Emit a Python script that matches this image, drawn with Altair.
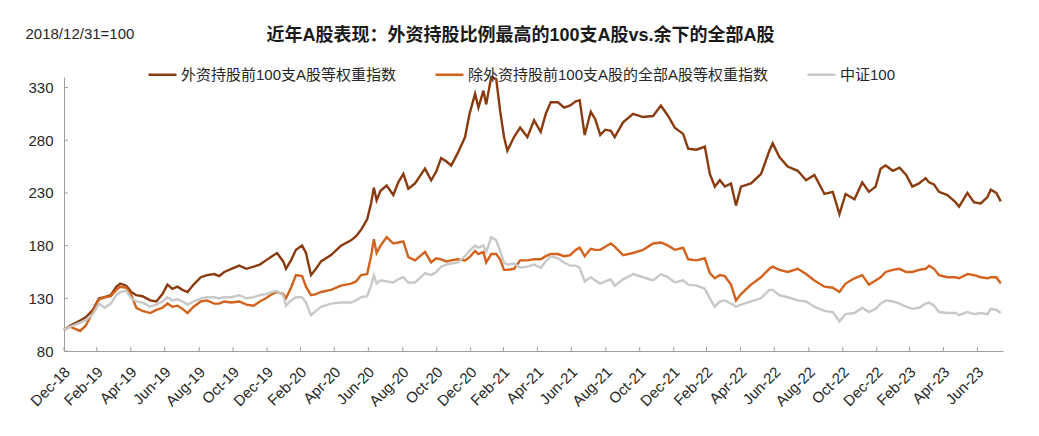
import altair as alt
import pandas as pd

# ---------------- data ----------------
dates = [
    "2018-12-31", "2019-01-11", "2019-01-29", "2019-02-08", "2019-02-21", "2019-03-04", "2019-03-14",
    "2019-03-25", "2019-04-04", "2019-04-11", "2019-04-22", "2019-05-01", "2019-05-10", "2019-05-21",
    "2019-06-04", "2019-06-15", "2019-06-26", "2019-07-05", "2019-07-14", "2019-07-23", "2019-08-01",
    "2019-08-10", "2019-08-21", "2019-09-03", "2019-09-14", "2019-09-27", "2019-10-06", "2019-10-15",
    "2019-10-28", "2019-11-11", "2019-11-24", "2019-12-07", "2019-12-18", "2019-12-29", "2020-01-09",
    "2020-01-18", "2020-01-29", "2020-02-03", "2020-02-12", "2020-02-21", "2020-03-03", "2020-03-10",
    "2020-03-19", "2020-03-28", "2020-04-06", "2020-04-24", "2020-05-12", "2020-05-30", "2020-06-08",
    "2020-06-17", "2020-06-28", "2020-07-05", "2020-07-10", "2020-07-15", "2020-07-22", "2020-08-02",
    "2020-08-14", "2020-08-23", "2020-09-01", "2020-09-10", "2020-09-22", "2020-10-10", "2020-10-21",
    "2020-10-30", "2020-11-08", "2020-11-17", "2020-11-26", "2020-12-08", "2020-12-21", "2020-12-29",
    "2021-01-08", "2021-01-14", "2021-01-23", "2021-01-28", "2021-02-06", "2021-02-15", "2021-02-22",
    "2021-03-01", "2021-03-07", "2021-03-19", "2021-03-30", "2021-04-12", "2021-04-24", "2021-05-06",
    "2021-05-15", "2021-05-24", "2021-06-06", "2021-06-17", "2021-06-28", "2021-07-08", "2021-07-15",
    "2021-07-24", "2021-08-04", "2021-08-12", "2021-08-21", "2021-08-30", "2021-09-09", "2021-09-16",
    "2021-10-01", "2021-10-19", "2021-11-06", "2021-11-24", "2021-12-08", "2021-12-21", "2022-01-02",
    "2022-01-17", "2022-01-26", "2022-02-10", "2022-02-25", "2022-03-06", "2022-03-15", "2022-03-24",
    "2022-04-02", "2022-04-13", "2022-04-22", "2022-05-01", "2022-05-19", "2022-06-06", "2022-06-21",
    "2022-06-27", "2022-07-09", "2022-07-24", "2022-08-11", "2022-08-26", "2022-09-10", "2022-09-28",
    "2022-10-13", "2022-10-25", "2022-11-05", "2022-11-21", "2022-12-05", "2022-12-17", "2022-12-29",
    "2023-01-07", "2023-01-16", "2023-01-29", "2023-02-10", "2023-02-22", "2023-03-05", "2023-03-17",
    "2023-03-29", "2023-04-04", "2023-04-13", "2023-04-22", "2023-05-07", "2023-05-22", "2023-05-28",
    "2023-06-12", "2023-06-24", "2023-07-06", "2023-07-18", "2023-07-24", "2023-08-03", "2023-08-11",
]

top100 = [
    100, 104, 109, 112, 119, 130, 131, 133, 141, 144, 142, 136, 133, 132,
    128, 127, 134, 143, 139, 141, 138, 136, 143, 150, 152, 153, 151, 155,
    158, 161, 158, 160, 162, 166, 170, 173, 165, 158, 166, 176, 180, 173,
    152, 158, 165, 171, 180, 185, 189, 195, 205, 220, 235, 223, 232, 237,
    228, 240, 248, 234, 239, 253, 242, 250, 263, 260, 256, 268, 283, 305,
    324, 311, 327, 314, 340, 338, 308, 283, 270, 283, 292, 283, 299, 288,
    305, 316, 316, 311, 313, 317, 318, 285, 307, 300, 285, 290, 289, 283,
    297, 305, 302, 303, 313, 303, 292, 286, 272, 271, 274, 248, 236, 242,
    236, 239, 218, 236, 239, 248, 270, 277, 264, 255, 251, 242, 247, 229,
    231, 210, 229, 224, 240, 231, 236, 253, 256, 251, 254, 247, 236, 239,
    244, 240, 238, 231, 228, 221, 217, 230, 221, 220, 226, 233, 230, 222,
]

rest = [
    100, 103, 99, 104, 117, 129, 131, 132, 138, 141, 140, 133, 121, 118,
    116, 119, 121, 125, 122, 123, 120, 116, 122, 127, 128, 125, 125, 127,
    126, 127, 124, 123, 127, 130, 134, 136, 134, 130, 140, 152, 151, 141,
    133, 134, 136, 138, 142, 144, 146, 152, 153, 170, 186, 173, 180, 188,
    182, 183, 184, 169, 166, 174, 164, 168, 167, 165, 166, 167, 166, 169,
    175, 172, 174, 164, 172, 172, 167, 157, 157, 158, 166, 166, 167, 167,
    170, 172, 172, 170, 171, 176, 178, 170, 177, 176, 176, 179, 182, 179,
    171, 173, 176, 182, 183, 180, 176, 178, 167, 166, 168, 154, 149, 152,
    151, 143, 128, 134, 143, 150, 158, 160, 157, 155, 158, 153, 147, 141,
    140, 136, 144, 149, 152, 143, 147, 150, 155, 157, 158, 155, 155, 157,
    158, 161, 158, 152, 150, 150, 149, 153, 152, 150, 149, 150, 150, 144,
]

csi100 = [
    100, 103, 107, 109, 115, 125, 121, 125, 133, 136, 137, 130, 127, 126,
    122, 124, 127, 131, 128, 129, 127, 124, 127, 130, 131, 131, 130, 131,
    131, 133, 130, 131, 133, 134, 136, 137, 133, 123, 128, 131, 131, 126,
    114, 118, 122, 125, 126, 126, 128, 131, 132, 142, 152, 144, 147, 146,
    145, 148, 150, 145, 145, 154, 152, 155, 160, 162, 163, 164, 170, 175,
    180, 178, 180, 174, 188, 185, 175, 164, 162, 163, 159, 160, 162, 159,
    165, 170, 168, 164, 161, 161, 159, 146, 150, 147, 144, 146, 148, 142,
    148, 153, 150, 147, 153, 150, 145, 147, 143, 142, 139, 130, 122, 127,
    128, 125, 122, 124, 127, 130, 138, 138, 133, 131, 128, 127, 122, 118,
    117, 108, 115, 116, 121, 117, 120, 125, 128, 127, 125, 122, 120, 121,
    125, 126, 123, 117, 116, 116, 114, 117, 115, 116, 115, 120, 119, 116,
]

series_names = [
    "外资持股前100支A股等权重指数",
    "除外资持股前100支A股的全部A股等权重指数",
    "中证100",
]
series_colors = ["#8A3B0E", "#D2621C", "#C8C8C8"]

x_tick_dates = [
    "2018-12-31", "2019-02-28", "2019-04-30", "2019-06-30", "2019-08-31", "2019-10-31",
    "2019-12-31", "2020-02-29", "2020-04-30", "2020-06-30", "2020-08-31", "2020-10-31",
    "2020-12-31", "2021-02-28", "2021-04-30", "2021-06-30", "2021-08-31", "2021-10-31",
    "2021-12-31", "2022-02-28", "2022-04-30", "2022-06-30", "2022-08-31", "2022-10-31",
    "2022-12-31", "2023-02-28", "2023-04-30", "2023-06-30",
]
y_ticks = [80, 130, 180, 230, 280, 330]
x_domain = ["2018-12-31", "2023-08-15"]
y_domain = [80, 340]

# ---------------- build table ----------------
frames = []
for name, vals in zip(series_names, [top100, rest, csi100]):
    frames.append(pd.DataFrame({"date": dates, "value": vals, "series": name}))
df = pd.concat(frames, ignore_index=True)


def dt(s):
    y, m, d = (int(p) for p in s.split("-"))
    return alt.DateTime(year=y, month=m, date=d, utc=True)


W, H = 939, 274
AX = "#9E9E9E"
LATIN = "Liberation Sans, Noto Sans CJK SC"
TXT = "#262626"

x_scale = alt.Scale(type="utc", domain=[dt(s) for s in x_domain])
y_scale = alt.Scale(domain=y_domain, nice=False, zero=False)

x_axis = alt.Axis(
    values=[dt(s) for s in x_tick_dates],
    format="%b-%y",
    labelAngle=-45,
    labelAlign="right",
    labelBaseline="top",
    labelPadding=13,
    labelOffset=-2,
    labelFontSize=15,
    labelFont=LATIN,
    labelColor=TXT,
    labelOverlap=False,
    ticks=False,
    grid=False,
    domainColor=AX,
    title=None,
)
y_axis = alt.Axis(
    values=y_ticks,
    labelPadding=11,
    labelFontSize=15,
    labelFont=LATIN,
    labelColor=TXT,
    ticks=False,
    grid=False,
    domainColor=AX,
    title="2018/12/31=100",
    titleAngle=0,
    titleAlign="left",
    titleBaseline="alphabetic",
    titleX=-39,
    titleY=-39,
    titleFontSize=15,
    titleFont=LATIN,
    titleFontWeight="normal",
    titleColor=TXT,
)

lines = alt.Chart(df).mark_line(strokeWidth=2.4).encode(
    x=alt.X("date:T", scale=x_scale, axis=x_axis),
    y=alt.Y("value:Q", scale=y_scale, axis=y_axis),
    color=alt.Color(
        "series:N",
        scale=alt.Scale(domain=series_names, range=series_colors),
        legend=alt.Legend(
            orient="none",
            legendX=83,
            legendY=-18,
            direction="horizontal",
            title=None,
            symbolType="stroke",
            symbolSize=784,
            symbolStrokeWidth=2.5,
            labelFontSize=15,
            labelFont=LATIN,
            labelColor=TXT,
            labelOffset=3,
            labelLimit=0,
            columnPadding=33,
            padding=0,
        ),
    ),
)

# short inward tick marks on both axes
ytick_df = pd.DataFrame({"value": y_ticks})
ytick_layer = alt.Chart(ytick_df).mark_rule(color=AX, strokeWidth=1).encode(
    y=alt.Y("value:Q", scale=y_scale, axis=y_axis),
    x=alt.value(0),
    x2=alt.value(4),
)

xtick_df = pd.DataFrame({"date": x_tick_dates})
xtick_layer = alt.Chart(xtick_df).mark_rule(color=AX, strokeWidth=1).encode(
    x=alt.X("date:T", scale=x_scale, axis=x_axis),
    y=alt.value(H - 4),
    y2=alt.value(H),
)

chart = (
    alt.layer(lines, ytick_layer, xtick_layer)
    .properties(
        width=W,
        height=H,
        autosize=alt.AutoSizeParams(type="none"),
        padding={"left": 56, "top": 69, "right": 28, "bottom": 60},
        background="white",
        title=alt.TitleParams(
            text="近年A股表现：外资持股比例最高的100支A股vs.余下的全部A股",
            fontSize=18,
            fontWeight="bold",
            font=LATIN,
            color="#1A1A1A",
            anchor="middle",
            dx=-13,
            dy=27,
            offset=8,
        ),
    )
    .configure_view(stroke=None)
)

chart.save("out.html", embed_options={"renderer": "svg", "actions": False})
